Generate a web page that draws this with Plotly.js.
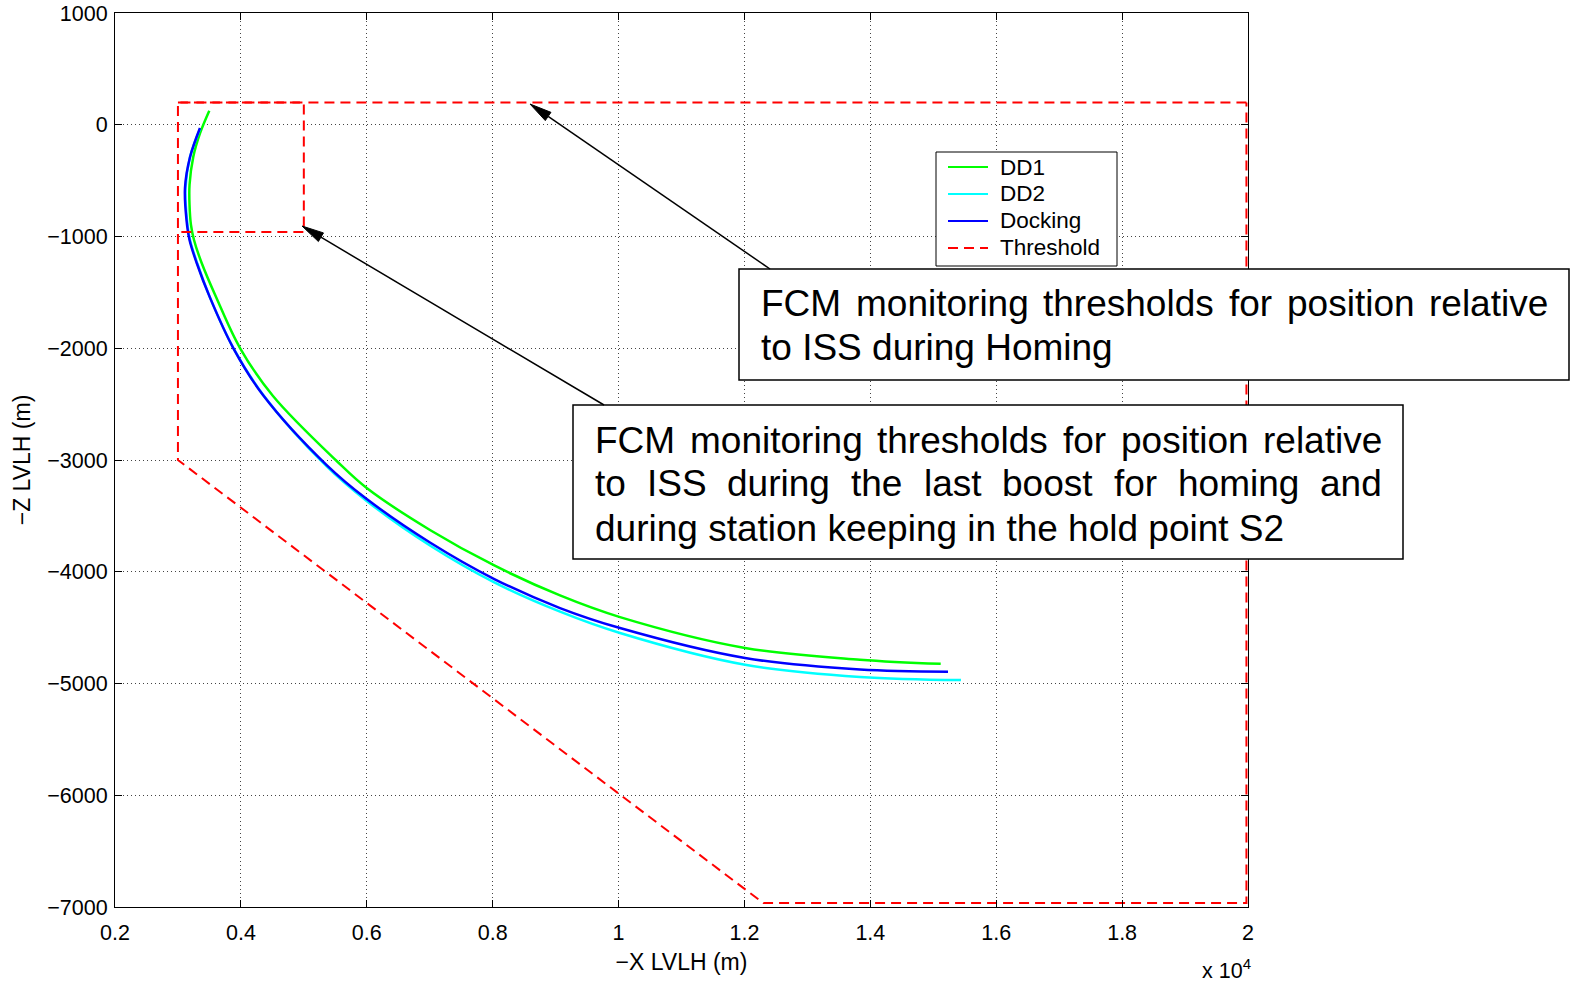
<!DOCTYPE html>
<html>
<head>
<meta charset="utf-8">
<script src="https://cdn.plot.ly/plotly-3.0.1.min.js"></script>
<style>
  html, body { margin: 0; padding: 0; background: #fff; }
  #chart { width: 1572px; height: 990px; }
</style>
</head>
<body>
<div id="chart"></div>
<script>
// ---------------- data ----------------
const xTickVals = [2000, 4000, 6000, 8000, 10000, 12000, 14000, 16000, 18000, 20000];
const xTickText = ['0.2', '0.4', '0.6', '0.8', '1', '1.2', '1.4', '1.6', '1.8', '2'];
const yTickVals = [-7000, -6000, -5000, -4000, -3000, -2000, -1000, 0, 1000];
const yTickText = ['\u22127000', '\u22126000', '\u22125000', '\u22124000', '\u22123000', '\u22122000', '\u22121000', '0', '1000'];

const dd1X = [3498, 3350, 3244, 3184, 3184, 3207, 3255, 3377, 3616, 3986, 4510, 5522, 5999, 7004, 8026, 9070, 10023, 12009, 13836, 15118];
const dd1Y = [126, -77, -286, -539, -718, -897, -1031, -1237, -1555, -1998, -2427, -3009, -3251, -3626, -3944, -4212, -4406, -4682, -4787, -4824];

const dd2X = [3350, 3192, 3120, 3144, 3192, 3311, 3517, 3890, 4367, 5363, 5999, 7004, 8026, 9070, 10023, 12009, 13836, 15440];
const dd2Y = [-38, -289, -566, -852, -1031, -1246, -1556, -2007, -2427, -3058, -3367, -3765, -4095, -4357, -4548, -4832, -4941, -4969];

const dockX = [3350, 3192, 3112, 3136, 3184, 3298, 3509, 3879, 4351, 5363, 5999, 7004, 8026, 9070, 10023, 12009, 13836, 15234];
const dockY = [-29, -289, -566, -852, -1031, -1237, -1547, -1998, -2418, -3045, -3349, -3738, -4065, -4325, -4504, -4772, -4875, -4894];

const thrX = [19975, 3000, 3000, 12300, 19975, 19975, null, 3000, 5000, 5000, 3000];
const thrY = [200, 200, -3000, -6965, -6965, 200, null, 200, 200, -960, -960];

const seriesNames = ['DD1', 'DD2', 'Docking', 'Threshold'];
const seriesColors = ['#00ff00', '#00ffff', '#0000ff', '#ff0000'];
const box1Lines = ['FCM monitoring thresholds for position relative', 'to ISS during Homing'];
const box2Lines = ['FCM monitoring thresholds for position relative', 'to ISS during the last boost for homing and', 'during station keeping in the hold point S2'];

// ---------------- helpers (pixel -> paper) ----------------
const PL = 115, PR = 1248, PT = 13, PB = 907;
const X = px => (px - PL) / (PR - PL);
const Y = py => (PB - py) / (PB - PT);
const FONT = 'Liberation Sans, Arial, Helvetica, sans-serif';
const BOXFS = 37;
const THR_DASH = '10px,6px';

const ctx = document.createElement('canvas').getContext('2d');
ctx.font = BOXFS + 'px "Liberation Sans"';

function lineAnnots(lines, left, right, yc0, dy) {
  const out = [];
  lines.forEach((line, i) => {
    const yc = yc0 + i * dy;
    const last = i === lines.length - 1;
    if (last) {
      out.push({xref: 'paper', yref: 'paper', x: X(left), y: Y(yc), xanchor: 'left', yanchor: 'middle',
        text: line, showarrow: false, borderpad: 0, borderwidth: 0, font: {family: FONT, size: BOXFS, color: '#000'}});
      return;
    }
    const words = line.split(' ');
    const widths = words.map(w => ctx.measureText(w).width);
    const total = widths.reduce((a, b) => a + b, 0);
    const gap = (right - left - total) / (words.length - 1);
    let x = left;
    words.forEach((w, k) => {
      out.push({xref: 'paper', yref: 'paper', x: X(x), y: Y(yc), xanchor: 'left', yanchor: 'middle',
        text: w, showarrow: false, borderpad: 0, borderwidth: 0, font: {family: FONT, size: BOXFS, color: '#000'}});
      x += widths[k] + gap;
    });
  });
  return out;
}

function arrowShapes(tx, ty, sx, sy) {
  const dx = tx - sx, dy = ty - sy, L = Math.hypot(dx, dy);
  const ux = dx / L, uy = dy / L;
  const hl = 22, hw = 5;
  const bx = tx - ux * hl, by = ty - uy * hl;
  const px = -uy, py = ux;
  const p1 = [bx + px * hw, by + py * hw], p2 = [bx - px * hw, by - py * hw];
  return [
    {type: 'line', xref: 'paper', yref: 'paper', x0: X(sx), y0: Y(sy), x1: X(bx), y1: Y(by), line: {color: '#000', width: 1.5}},
    {type: 'path', xref: 'paper', yref: 'paper',
      path: `M${X(tx)},${Y(ty)} L${X(p1[0])},${Y(p1[1])} L${X(p2[0])},${Y(p2[1])} Z`,
      fillcolor: '#000', line: {color: '#000', width: 1}}
  ];
}

// manual legend (MATLAB-style box)
function legendParts() {
  const shapes = [{type: 'rect', xref: 'paper', yref: 'paper', x0: X(936), x1: X(1117), y0: Y(152), y1: Y(266),
    fillcolor: '#fff', line: {color: '#000', width: 1}}];
  const annots = [];
  seriesNames.forEach((n, i) => {
    const yc = 167 + 27 * i;
    shapes.push({type: 'line', xref: 'paper', yref: 'paper', x0: X(948), x1: X(988), y0: Y(yc), y1: Y(yc),
      line: {color: seriesColors[i], width: 2, dash: i === 3 ? THR_DASH : 'solid'}});
    annots.push({xref: 'paper', yref: 'paper', x: X(1000), y: Y(yc), xanchor: 'left', yanchor: 'middle', showarrow: false,
      text: n, borderpad: 0, borderwidth: 0, font: {family: FONT, size: 22.5, color: '#000'}});
  });
  return {shapes, annots};
}
const leg = legendParts();

// ---------------- traces ----------------
const traces = [
  {x: dd1X, y: dd1Y, name: seriesNames[0], mode: 'lines', line: {color: seriesColors[0], width: 2.5, shape: 'spline', smoothing: 1}},
  {x: dd2X, y: dd2Y, name: seriesNames[1], mode: 'lines', line: {color: seriesColors[1], width: 2.5, shape: 'spline', smoothing: 1}},
  {x: dockX, y: dockY, name: seriesNames[2], mode: 'lines', line: {color: seriesColors[2], width: 2.5, shape: 'spline', smoothing: 1}},
  {x: thrX, y: thrY, name: seriesNames[3], mode: 'lines', connectgaps: false, line: {color: seriesColors[3], width: 2, dash: THR_DASH}}
];

const axisCommon = {
  ticks: 'inside', ticklen: 7, tickwidth: 1, tickcolor: '#000',
  showline: true, linecolor: '#000', linewidth: 1, mirror: 'ticks',
  showgrid: true, gridcolor: '#444', gridwidth: 1, griddash: '1px,3px',
  zeroline: false, tickfont: {family: FONT, size: 21.5, color: '#000'}
};

const shapes = [
  ...leg.shapes,
  {type: 'rect', xref: 'paper', yref: 'paper', x0: X(739), x1: X(1569), y0: Y(269), y1: Y(380), fillcolor: '#fff', line: {color: '#000', width: 1.5}},
  {type: 'rect', xref: 'paper', yref: 'paper', x0: X(573), x1: X(1403), y0: Y(405), y1: Y(559), fillcolor: '#fff', line: {color: '#000', width: 1.5}},
  ...arrowShapes(530, 104, 770, 269),
  ...arrowShapes(302, 226, 604, 405)
];

const annotations = [
  ...leg.annots,
  ...lineAnnots(box1Lines, 761, 1548, 303, 44),
  ...lineAnnots(box2Lines, 595, 1382, 440, 44),
  {xref: 'paper', yref: 'paper', x: X(1251), y: Y(969), xanchor: 'right', yanchor: 'middle', showarrow: false,
    text: 'x 10<sup>4</sup>', borderpad: 0, borderwidth: 0, font: {family: FONT, size: 21.5, color: '#000'}}
];

const layout = {
  width: 1572, height: 990,
  margin: {l: PL, r: 1572 - PR, t: PT, b: 990 - PB, pad: 0},
  paper_bgcolor: '#fff', plot_bgcolor: '#fff',
  font: {family: FONT, color: '#000'},
  showlegend: false,
  xaxis: Object.assign({}, axisCommon, {range: [2000, 20000], tickmode: 'array', tickvals: xTickVals, ticktext: xTickText,
    ticklabelstandoff: 6,
    title: {text: '\u2212X LVLH (m)', font: {family: FONT, size: 23, color: '#000'}, standoff: 10}}),
  yaxis: Object.assign({}, axisCommon, {range: [-7000, 1000], tickmode: 'array', tickvals: yTickVals, ticktext: yTickText,
    ticklabelstandoff: 2,
    title: {text: '\u2212Z LVLH (m)', font: {family: FONT, size: 23, color: '#000'}, standoff: 10}}),
  shapes: shapes,
  annotations: annotations
};

Plotly.newPlot('chart', traces, layout, {displayModeBar: false, staticPlot: true});
</script>
</body>
</html>
